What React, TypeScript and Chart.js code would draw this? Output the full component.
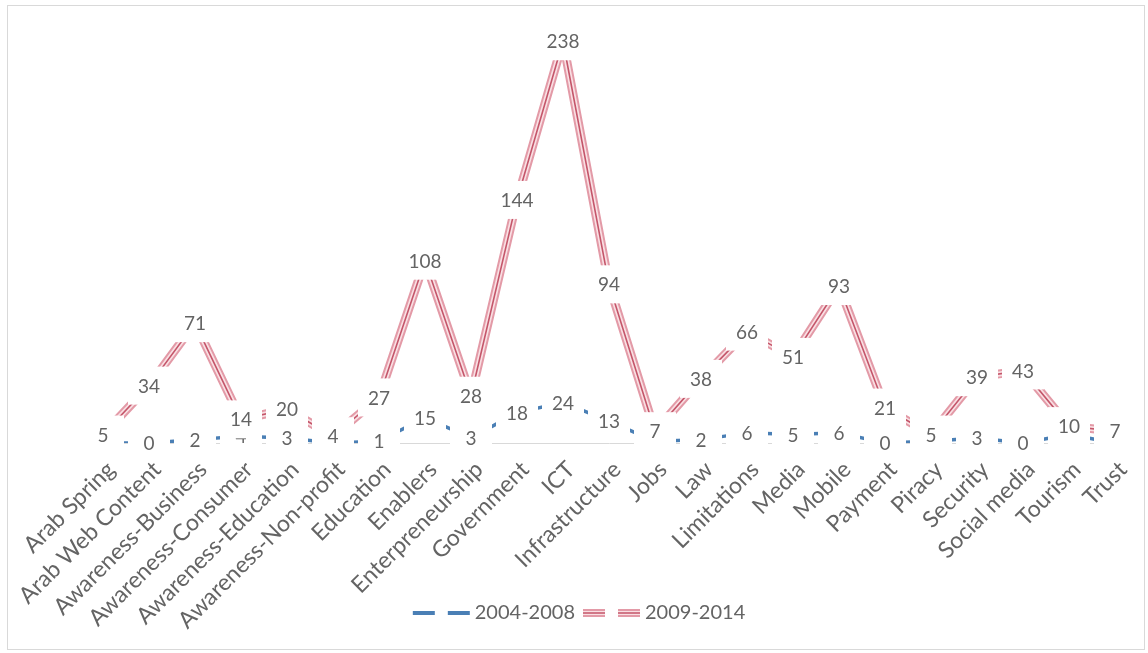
import React, { useEffect, useRef } from 'react';
import { Chart, registerables } from 'chart.js';

Chart.register(...registerables);

const categories = [
  'Arab Spring', 'Arab Web Content', 'Awareness-Business', 'Awareness-Consumer',
  'Awareness-Education', 'Awareness-Non-profit', 'Education', 'Enablers',
  'Enterpreneurship', 'Government', 'ICT', 'Infrastructure', 'Jobs', 'Law',
  'Limitations', 'Media', 'Mobile', 'Payment', 'Piracy', 'Security',
  'Social media', 'Tourism', 'Trust',
];
const values2004 = [0, 0, 2, 4, 3, 0, 1, 15, 3, 18, 24, 13, 1, 2, 6, 5, 6, 0, 1, 3, 0, 5, 0];
const values2009 = [5, 34, 71, 14, 20, 4, 27, 108, 28, 144, 238, 94, 7, 38, 66, 51, 93, 21, 5, 39, 43, 10, 7];
const seriesNames = ['2004-2008', '2009-2014'];

const BLUE = '#4a7fb5';
const PINK_OUT = '#e39aa7';
const PINK_MID = '#f9dfe3';
const PINK_IN = '#c4566a';
const TEXT = '#646464';
const FONT = 'Lato';

function makeBlueSample() {
  const c = document.createElement('canvas');
  c.width = 62; c.height = 10;
  const g = c.getContext('2d')!;
  g.strokeStyle = BLUE; g.lineWidth = 4;
  g.beginPath(); g.moveTo(2, 5); g.lineTo(24, 5); g.moveTo(37, 5); g.lineTo(59, 5); g.stroke();
  return c;
}
function makePinkSample() {
  const c = document.createElement('canvas');
  c.width = 62; c.height = 12;
  const g = c.getContext('2d')!;
  const seg = (w: number, col: string) => {
    g.strokeStyle = col; g.lineWidth = w;
    g.beginPath(); g.moveTo(2, 6); g.lineTo(24, 6); g.moveTo(37, 6); g.lineTo(59, 6); g.stroke();
  };
  seg(8, PINK_OUT); seg(4, PINK_MID); seg(1.5, PINK_IN);
  return c;
}

const framePlugin = {
  id: 'frame',
  afterLayout(chart: any) {
    // let rotated category labels run past the scale box instead of being clipped
    chart.scales.x.bottom = chart.height;
  },
  beforeDraw(chart: any) {
    const ctx = chart.ctx;
    ctx.save();
    ctx.fillStyle = '#ffffff';
    ctx.fillRect(0, 0, chart.width, chart.height);
    ctx.strokeStyle = '#d9d9d9';
    ctx.lineWidth = 1;
    ctx.strokeRect(7.5, 5.5, 1137, 644);
    ctx.restore();
  },
};

const boxLabelPlugin = {
  id: 'boxLabels',
  afterDatasetsDraw(chart: any) {
    const ctx = chart.ctx;
    ctx.save();
    ctx.font = `19px ${FONT}`;
    ctx.textAlign = 'center';
    ctx.textBaseline = 'middle';
    [0, 1].forEach((di) => {
      const meta = chart.getDatasetMeta(di);
      const data = chart.data.datasets[di].data as number[];
      meta.data.forEach((pt: any, i: number) => {
        const txt = String(data[i]);
        const w = ctx.measureText(txt).width;
        const hw = Math.max(21, w / 2 + 6);
        const hh = 19;
        ctx.fillStyle = '#ffffff';
        ctx.fillRect(pt.x - hw, pt.y - hh, hw * 2, hh * 2);
        ctx.fillStyle = TEXT;
        ctx.fillText(txt, pt.x, pt.y + 1);
      });
    });
    ctx.restore();
  },
};

export default function App() {
  const ref = useRef<HTMLCanvasElement | null>(null);

  useEffect(() => {
    if (!ref.current) return;
    const blueSample = makeBlueSample();
    const pinkSample = makePinkSample();
    const common = { pointRadius: 0, pointHoverRadius: 0, tension: 0, fill: false, borderJoinStyle: 'round' as const, borderCapStyle: 'butt' as const };
    const chart = new Chart(ref.current, {
      type: 'line',
      data: {
        labels: categories,
        datasets: [
          { label: seriesNames[0], data: values2004, borderColor: BLUE, borderWidth: 3.5, order: 4, ...common },
          { label: seriesNames[1], data: values2009, borderColor: PINK_OUT, borderWidth: 9, order: 3, ...common },
          { label: seriesNames[1] + ' mid', data: values2009, borderColor: PINK_MID, borderWidth: 5, order: 2, ...common },
          { label: seriesNames[1] + ' core', data: values2009, borderColor: PINK_IN, borderWidth: 1.6, order: 1, ...common },
        ],
      },
      options: {
        animation: false,
        responsive: false,
        events: [],
        layout: { padding: { left: 49, right: 33, top: 21, bottom: 20 } },
        scales: {
          x: {
            type: 'category',
            offset: false,
            grid: { display: false, drawTicks: false },
            border: { display: true, color: '#d9d9d9', width: 1 },
            ticks: {
              autoSkip: false,
              maxRotation: 45,
              minRotation: 45,
              padding: 13,
              labelOffset: 8,
              color: TEXT,
              font: { family: FONT, size: 23 },
            },
            afterFit: (s: any) => { s.height = 146; s.paddingLeft = 103; s.paddingRight = 0; },
          },
          y: { display: false, min: 0, max: 250 },
        },
        plugins: {
          tooltip: { enabled: false },
          legend: {
            display: true,
            position: 'bottom',
            labels: {
              usePointStyle: true,
              pointStyleWidth: 46,
              padding: 14,
              color: TEXT,
              font: { family: FONT, size: 20 },
              generateLabels: () => [
                { text: seriesNames[0], pointStyle: blueSample as any, fillStyle: 'rgba(0,0,0,0)', strokeStyle: 'rgba(0,0,0,0)', lineWidth: 0, hidden: false, datasetIndex: 0, fontColor: TEXT },
                { text: seriesNames[1], pointStyle: pinkSample as any, fillStyle: 'rgba(0,0,0,0)', strokeStyle: 'rgba(0,0,0,0)', lineWidth: 0, hidden: false, datasetIndex: 1, fontColor: TEXT },
              ],
            },
          },
        },
      },
      plugins: [framePlugin, boxLabelPlugin],
    });
    return () => chart.destroy();
  }, []);

  return (
    <div style={{ position: 'absolute', left: 0, top: 0, width: 1148, height: 653 }}>
      <canvas ref={ref} width={1148} height={653} style={{ width: 1148, height: 653, display: 'block' }} />
    </div>
  );
}
